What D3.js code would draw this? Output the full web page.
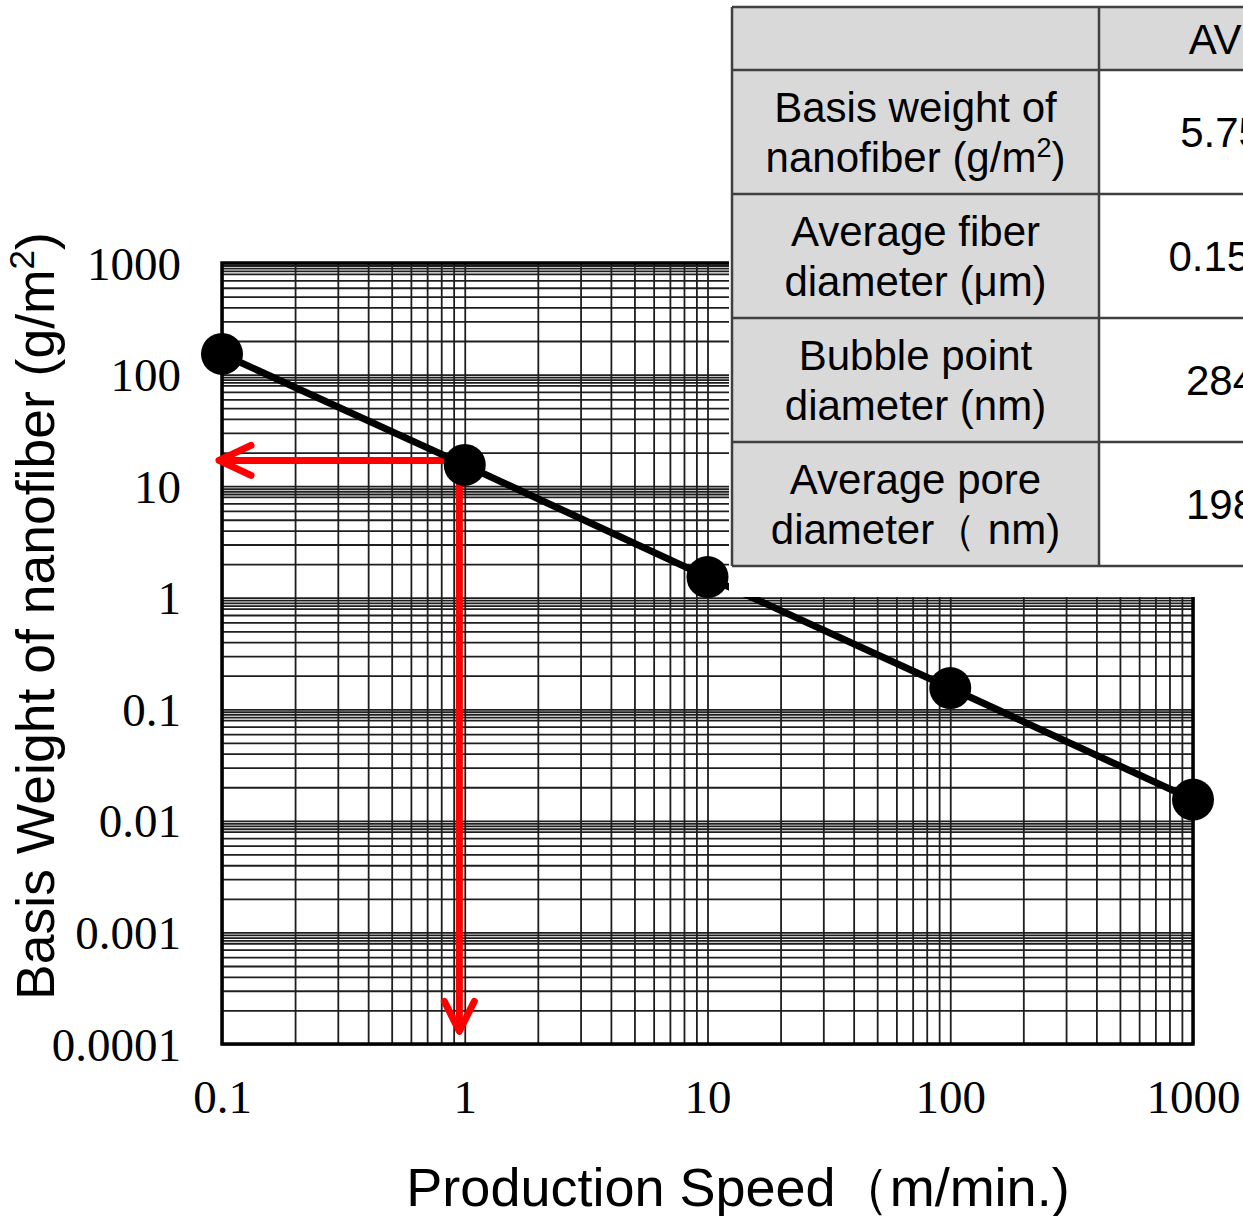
<!DOCTYPE html>
<html>
<head>
<meta charset="utf-8">
<script src="https://cdn.jsdelivr.net/npm/d3@7"></script>
<style>
  html, body { margin: 0; padding: 0; background: #fff; overflow: hidden; }
  svg { display: block; }
</style>
</head>
<body>
<div id="chart"></div>
<script>
// data
const speeds = [0.1, 1, 10, 100, 1000];
const weights = [153, 15.5, 1.53, 0.155, 0.0155];

const xTickValues = [0.1, 1, 10, 100, 1000];
const xTickLabels = ["0.1", "1", "10", "100", "1000"];
const yTickValues = [0.0001, 0.001, 0.01, 0.1, 1, 10, 100, 1000];
const yTickLabels = ["0.0001", "0.001", "0.01", "0.1", "1", "10", "100", "1000"];

// minor grid multipliers inside each decade
const xGridMult = [1, 2, 3, 4, 5, 6, 7, 8, 9];
const yGridMult = [1, 2, 3, 4, 5, 6, 7, 8, 8.5, 9, 9.5];

// red read-off arrows
const arrowSpeed = 0.95;
const arrowWeight = 17;
const arrowLeftSpeed = 0.1;
const arrowDownWeight = 0.00013;

// table
const tableHeader = ["", "AVE."];
const tableLabels = [
  ["Basis weight of", "nanofiber (g/m^2)"],
  ["Average fiber", "diameter (μm)"],
  ["Bubble point", "diameter (nm)"],
  ["Average pore", "diameter（ nm)"]
];
const tableValues = ["5.75", "0.152", "284", "198"];

const W = 1243, H = 1216;
const margin = { top: 263, right: 50, bottom: 172, left: 222 },
  width = W - margin.left - margin.right,
  height = H - margin.top - margin.bottom;

const svg = d3
  .select("#chart")
  .append("svg")
  .attr("width", W)
  .attr("height", H);

const x = d3.scaleLog().domain([0.1, 1000]).range([margin.left, margin.left + width]);
const y = d3.scaleLog().domain([0.0001, 1000]).range([margin.top + height, margin.top]);

function gridValues(lo, hi, mult) {
  let out = [];
  for (let e = Math.round(Math.log10(lo)); e < Math.round(Math.log10(hi)); e++) {
    mult.forEach(m => out.push(m * Math.pow(10, e)));
  }
  out.push(hi);
  return out;
}

// grid lines
const gridStroke = "#1e1e1e";
svg
  .append("g")
  .attr("class", "x grid")
  .attr("transform", "translate(0," + (margin.top + height) + ")")
  .call(d3.axisBottom(x).tickValues(gridValues(0.1, 1000, xGridMult)).tickSize(-height).tickFormat(""))
  .call(g => g.select(".domain").remove())
  .call(g => g.selectAll("line").attr("stroke", gridStroke).attr("stroke-width", 1.8));

svg
  .append("g")
  .attr("class", "y grid")
  .attr("transform", "translate(" + margin.left + ",0)")
  .call(d3.axisLeft(y).tickValues(gridValues(0.0001, 1000, yGridMult)).tickSize(-width).tickFormat(""))
  .call(g => g.select(".domain").remove())
  .call(g => g.selectAll("line").attr("stroke", gridStroke).attr("stroke-width", 1.8));

// frame
svg
  .append("rect")
  .attr("x", margin.left)
  .attr("y", margin.top)
  .attr("width", width)
  .attr("height", height)
  .attr("fill", "none")
  .attr("stroke", "#000")
  .attr("stroke-width", 3.5);

// tick labels
svg
  .append("g")
  .attr("transform", "translate(0," + (margin.top + height) + ")")
  .call(d3.axisBottom(x).tickValues(xTickValues).tickSize(0).tickPadding(0)
    .tickFormat((d, i) => xTickLabels[i]))
  .call(g => g.select(".domain").remove())
  .call(g => g.selectAll("text")
    .attr("y", 69)
    .attr("dy", null)
    .attr("font-family", "'Liberation Serif', 'DejaVu Serif', serif")
    .attr("font-size", 47)
    .attr("fill", "#000"));

svg
  .append("g")
  .attr("transform", "translate(" + margin.left + ",0)")
  .call(d3.axisLeft(y).tickValues(yTickValues).tickSize(0).tickPadding(0)
    .tickFormat((d, i) => yTickLabels[i]))
  .call(g => g.select(".domain").remove())
  .call(g => g.selectAll("text")
    .attr("x", -41)
    .attr("dy", null)
    .attr("y", 16)
    .attr("font-family", "'Liberation Serif', 'DejaVu Serif', serif")
    .attr("font-size", 47)
    .attr("fill", "#000"));

// red arrows (under the data)
const red = "#ff0000";
const ax = x(arrowSpeed), ay = y(arrowWeight);
const leftTip = x(arrowLeftSpeed) - 3, downTip = y(arrowDownWeight);

svg.append("line")
  .attr("x1", ax).attr("y1", ay).attr("x2", leftTip + 4).attr("y2", ay)
  .attr("stroke", red).attr("stroke-width", 7);
svg.append("polyline")
  .attr("points", [[leftTip + 32, ay - 15], [leftTip, ay], [leftTip + 32, ay + 15]].join(" "))
  .attr("fill", "none").attr("stroke", red).attr("stroke-width", 7)
  .attr("stroke-linecap", "round").attr("stroke-linejoin", "round");

svg.append("line")
  .attr("x1", ax).attr("y1", ay).attr("x2", ax).attr("y2", downTip - 4)
  .attr("stroke", red).attr("stroke-width", 7);
svg.append("polyline")
  .attr("points", [[ax - 15, downTip - 30], [ax, downTip], [ax + 15, downTip - 30]].join(" "))
  .attr("fill", "none").attr("stroke", red).attr("stroke-width", 7)
  .attr("stroke-linecap", "round").attr("stroke-linejoin", "round");

// data line + points
const data = speeds.map((s, i) => ({ s: s, w: weights[i] }));
const line = d3.line().x(d => x(d.s)).y(d => y(d.w));

svg.append("path")
  .datum(data)
  .attr("d", line)
  .attr("fill", "none")
  .attr("stroke", "#000")
  .attr("stroke-width", 7);

svg.selectAll(".dot")
  .data(data)
  .enter()
  .append("circle")
  .attr("class", "dot")
  .attr("cx", d => x(d.s))
  .attr("cy", d => y(d.w))
  .attr("r", 21)
  .attr("fill", "#000");

// axis titles
svg.append("text")
  .attr("x", 738)
  .attr("y", 1206)
  .attr("text-anchor", "middle")
  .attr("font-family", "'Liberation Sans', Arial, sans-serif")
  .attr("font-size", 54)
  .attr("fill", "#000")
  .text("Production Speed（m/min.)");

const yTitle = svg.append("text")
  .attr("transform", "translate(54,616) rotate(-90)")
  .attr("text-anchor", "middle")
  .attr("font-family", "'Liberation Sans', Arial, sans-serif")
  .attr("font-size", 53.5)
  .attr("fill", "#000");
yTitle.append("tspan").text("Basis Weight of nanofiber (g/m");
yTitle.append("tspan").attr("font-size", 35).attr("dy", -20).text("2");
yTitle.append("tspan").attr("dy", 20).text(")");

// table pasted over the top right, with its white backing
const tLeft = 732, tMid = 1099, tRight = 1343;
const rowEdges = [7, 70, 194, 318, 442, 566];

svg.append("rect")
  .attr("x", 729).attr("y", 0)
  .attr("width", W - 729).attr("height", 597)
  .attr("fill", "#fff");

const tbl = svg.append("g").attr("class", "table");
const grey = "#d9d9d9", border = "#404040";

for (let r = 0; r < rowEdges.length - 1; r++) {
  const y0 = rowEdges[r], y1 = rowEdges[r + 1];
  tbl.append("rect").attr("x", tLeft).attr("y", y0)
    .attr("width", tMid - tLeft).attr("height", y1 - y0).attr("fill", grey);
  tbl.append("rect").attr("x", tMid).attr("y", y0)
    .attr("width", tRight - tMid).attr("height", y1 - y0)
    .attr("fill", r === 0 ? grey : "#fff");
}
// borders
rowEdges.forEach(ry => {
  tbl.append("line").attr("x1", tLeft).attr("x2", tRight).attr("y1", ry).attr("y2", ry)
    .attr("stroke", border).attr("stroke-width", 2.5);
});
[tLeft, tMid, tRight].forEach(cx => {
  tbl.append("line").attr("x1", cx).attr("x2", cx).attr("y1", rowEdges[0]).attr("y2", rowEdges[rowEdges.length - 1])
    .attr("stroke", border).attr("stroke-width", 2.5);
});

const tFont = "'Liberation Sans', Arial, sans-serif", tSize = 42;
const c1 = (tLeft + tMid) / 2, c2 = (tMid + tRight) / 2;

tbl.append("text")
  .attr("x", c2 + 14).attr("y", (rowEdges[0] + rowEdges[1]) / 2 + 15)
  .attr("text-anchor", "middle").attr("font-family", tFont).attr("font-size", tSize)
  .text(tableHeader[1]);

tableLabels.forEach((lines, i) => {
  const cy = (rowEdges[i + 1] + rowEdges[i + 2]) / 2;
  lines.forEach((ln, j) => {
    const t = tbl.append("text")
      .attr("x", c1).attr("y", cy - 10 + j * 50)
      .attr("text-anchor", "middle").attr("font-family", tFont).attr("font-size", tSize)
      .attr("fill", "#000");
    const parts = ln.split("^2");
    t.append("tspan").text(parts[0]);
    if (parts.length > 1) {
      t.append("tspan").attr("font-size", 27).attr("dy", -15).text("2");
      t.append("tspan").attr("dy", 15).text(parts[1]);
    }
  });
  tbl.append("text")
    .attr("x", c2).attr("y", cy + 15)
    .attr("text-anchor", "middle").attr("font-family", tFont).attr("font-size", tSize)
    .attr("fill", "#000")
    .text(tableValues[i]);
});
</script>
</body>
</html>
